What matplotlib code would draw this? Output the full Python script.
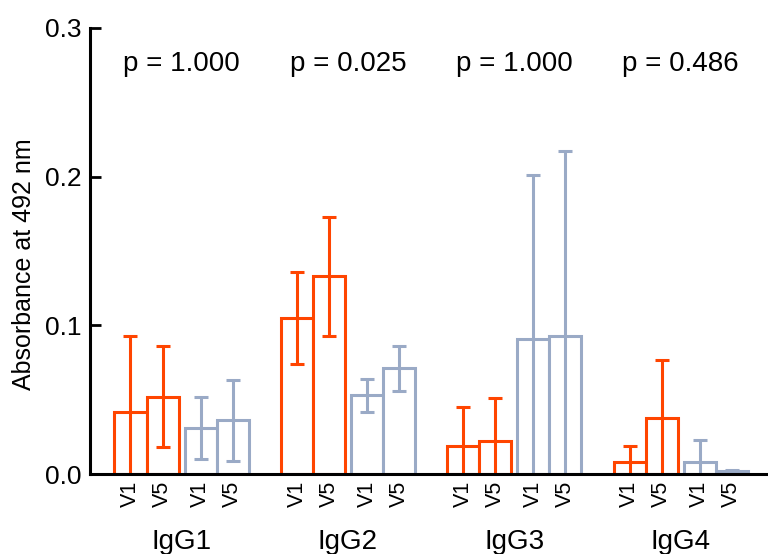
import matplotlib.pyplot as plt
import numpy as np

plt.rcParams['font.family'] = ['Liberation Sans', 'DejaVu Sans']

subclasses = ['IgG1', 'IgG2', 'IgG3', 'IgG4']
visits = ['V1', 'V5']
p_values = ['p = 1.000', 'p = 0.025', 'p = 1.000', 'p = 0.486']

# mean absorbance and error per subclass, visits V1 and V5
orange_mean = [[0.042, 0.052], [0.105, 0.133], [0.019, 0.022], [0.008, 0.038]]
orange_err = [[0.051, 0.034], [0.031, 0.040], [0.026, 0.029], [0.011, 0.039]]
blue_mean = [[0.031, 0.036], [0.053, 0.071], [0.091, 0.093], [0.008, 0.002]]
blue_err = [[0.021, 0.027], [0.011, 0.015], [0.110, 0.124], [0.015, 0.001]]

orange = '#ff4500'
blue = '#9aaac6'
stride = 5.2
offsets = [0, 1, 2.19, 3.19]

fig = plt.figure(figsize=(7.68, 5.54), dpi=100)
ax = fig.add_axes([0.117, 0.1444, 0.883, 0.8051])

ticks, ticklabels = [], []
for g in range(len(subclasses)):
    base = g * stride
    xo = [base + offsets[0], base + offsets[1]]
    xb = [base + offsets[2], base + offsets[3]]
    ax.bar(xo, orange_mean[g], width=1, facecolor='white', edgecolor=orange, linewidth=2.2, zorder=2)
    ax.bar(xb, blue_mean[g], width=1, facecolor='white', edgecolor=blue, linewidth=2.2, zorder=2)
    ax.errorbar(xo, orange_mean[g], yerr=orange_err[g], fmt='none', ecolor=orange,
                elinewidth=2.2, capsize=4.7, capthick=2.2, zorder=3)
    ax.errorbar(xb, blue_mean[g], yerr=blue_err[g], fmt='none', ecolor=blue,
                elinewidth=2.2, capsize=4.7, capthick=2.2, zorder=3)
    ticks += xo + xb
    ticklabels += visits + visits
    center = base + (offsets[0] + offsets[3]) / 2
    ax.text(center, 0.2755, p_values[g], ha='center', va='center', fontsize=20)
    ax.text(center, -0.046, subclasses[g], ha='center', va='center', fontsize=20,
            clip_on=False)

ax.set_xticks(ticks)
ax.set_xticklabels(ticklabels, rotation=90, fontsize=15.5)
ax.tick_params(axis='x', length=0, pad=5)
ax.set_xlim(-1.27, 19.92)
ax.set_ylim(0, 0.3)
ax.set_yticks([0, 0.1, 0.2, 0.3])
ax.set_yticklabels(['0.0', '0.1', '0.2', '0.3'], fontsize=19)
ax.tick_params(axis='y', direction='in', length=8, width=2, pad=6)
ax.set_ylabel('Absorbance at 492 nm', fontsize=18)
ax.yaxis.set_label_coords(-0.079, 0.47)
for side in ['top', 'right']:
    ax.spines[side].set_visible(False)
for side in ['left', 'bottom']:
    ax.spines[side].set_linewidth(2.2)
    ax.spines[side].set_zorder(4)

fig.savefig('out.png', dpi=100)
